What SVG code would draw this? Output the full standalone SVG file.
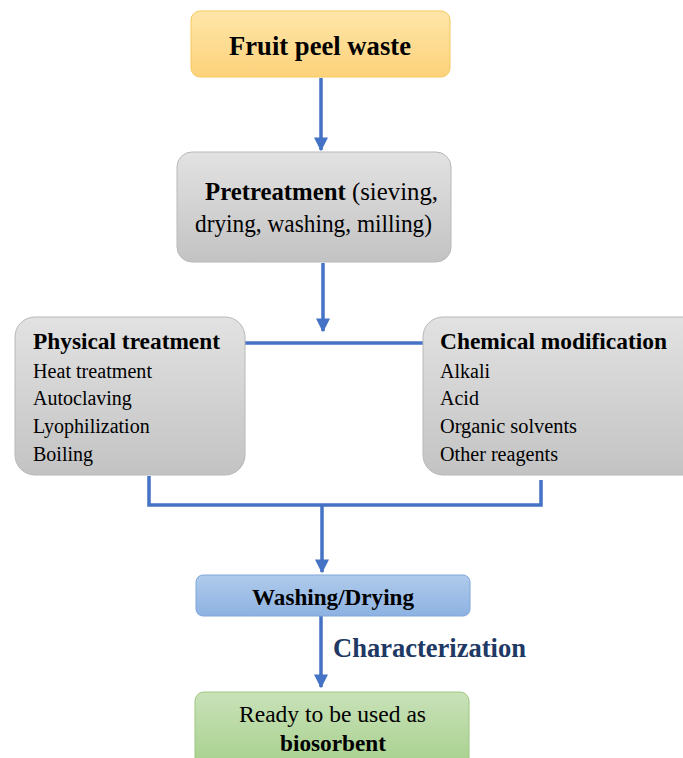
<svg xmlns="http://www.w3.org/2000/svg" width="683" height="758" viewBox="0 0 683 758">
<defs>
<linearGradient id="gOr" x1="0" y1="0" x2="0" y2="1"><stop offset="0" stop-color="#fee6a9"/><stop offset="1" stop-color="#fdd27b"/></linearGradient>
<linearGradient id="gGr" x1="0" y1="0" x2="0" y2="1"><stop offset="0" stop-color="#e2e2e2"/><stop offset="1" stop-color="#c3c3c3"/></linearGradient>
<linearGradient id="gBl" x1="0" y1="0" x2="0" y2="1"><stop offset="0" stop-color="#b0cbeb"/><stop offset="1" stop-color="#8db2e2"/></linearGradient>
<linearGradient id="gGn" x1="0" y1="0" x2="0" y2="1"><stop offset="0" stop-color="#c9e2b9"/><stop offset="1" stop-color="#a5cf8a"/></linearGradient>
<marker id="ah" viewBox="0 0 10 10" refX="9" refY="5" markerWidth="4" markerHeight="4" orient="auto" markerUnits="strokeWidth"><path d="M0,0 L10,5 L0,10 z" fill="#4472c4"/></marker>
</defs>
<style>
text{font-family:"Liberation Serif","Times New Roman",serif;fill:#000}
.b{font-weight:bold}
.ln{stroke:#4472c4;stroke-width:3.5;fill:none}
.it{font-size:20px}
</style>
<rect width="683" height="758" fill="#fff"/>
<g id="connectors">
<line class="ln" x1="321" y1="78" x2="321" y2="150" marker-end="url(#ah)"/>
<line class="ln" x1="323" y1="263" x2="323" y2="331" marker-end="url(#ah)"/>
<line class="ln" x1="245" y1="343" x2="424" y2="343"/>
<polyline class="ln" points="149,476 149,505 541,505 541,480"/>
<line class="ln" x1="322" y1="505" x2="322" y2="572" marker-end="url(#ah)"/>
<line class="ln" x1="321" y1="616" x2="321" y2="687" marker-end="url(#ah)"/>
</g>
<g id="fruit">
<rect x="191" y="11" width="259" height="66" rx="9" fill="url(#gOr)" stroke="#f6c85a" stroke-width="1"/>
<text x="229" y="55" class="b" font-size="28" textLength="182" lengthAdjust="spacingAndGlyphs">Fruit peel waste</text>
</g>
<g id="pretreatment">
<rect x="177" y="152" width="274" height="110" rx="15" fill="url(#gGr)" stroke="#b8b8b8" stroke-width="1"/>
<text x="205" y="200" font-size="25" textLength="233" lengthAdjust="spacingAndGlyphs"><tspan class="b">Pretreatment</tspan> (sieving,</text>
<text x="195" y="232" font-size="25" textLength="237" lengthAdjust="spacingAndGlyphs">drying, washing, milling)</text>
</g>
<g id="physical">
<rect x="15" y="317" width="230" height="158" rx="20" fill="url(#gGr)" stroke="#b8b8b8" stroke-width="1"/>
<text x="33" y="349" class="b" font-size="24" textLength="187" lengthAdjust="spacingAndGlyphs">Physical treatment</text>
<text x="33" y="378" class="it" textLength="119" lengthAdjust="spacingAndGlyphs">Heat treatment</text>
<text x="33" y="405" class="it">Autoclaving</text>
<text x="33" y="433" class="it">Lyophilization</text>
<text x="33" y="461" class="it">Boiling</text>
</g>
<g id="chemical">
<rect x="423" y="317" width="280" height="158" rx="20" fill="url(#gGr)" stroke="#b8b8b8" stroke-width="1"/>
<text x="440" y="349" class="b" font-size="24" textLength="227" lengthAdjust="spacingAndGlyphs">Chemical modification</text>
<text x="440" y="378" class="it">Alkali</text>
<text x="440" y="405" class="it">Acid</text>
<text x="440" y="433" class="it" textLength="137" lengthAdjust="spacingAndGlyphs">Organic  solvents</text>
<text x="440" y="461" class="it" textLength="118" lengthAdjust="spacingAndGlyphs">Other reagents</text>
</g>
<g id="washing">
<rect x="196" y="575" width="274" height="41" rx="7" fill="url(#gBl)" stroke="#7fa6d8" stroke-width="1"/>
<text x="252" y="605" class="b" font-size="23" textLength="162" lengthAdjust="spacingAndGlyphs">Washing/Drying</text>
</g>
<g id="characterization">
<text x="333" y="657" class="b" font-size="27" textLength="193" lengthAdjust="spacingAndGlyphs" style="fill:#203864">Characterization</text>
</g>
<g id="ready">
<rect x="195" y="692" width="274" height="80" rx="9" fill="url(#gGn)" stroke="#9cc67f" stroke-width="1"/>
<text x="239" y="722" font-size="24" textLength="187" lengthAdjust="spacingAndGlyphs">Ready to be used as</text>
<text x="280" y="751" class="b" font-size="24" textLength="106" lengthAdjust="spacingAndGlyphs">biosorbent</text>
</g>
</svg>
